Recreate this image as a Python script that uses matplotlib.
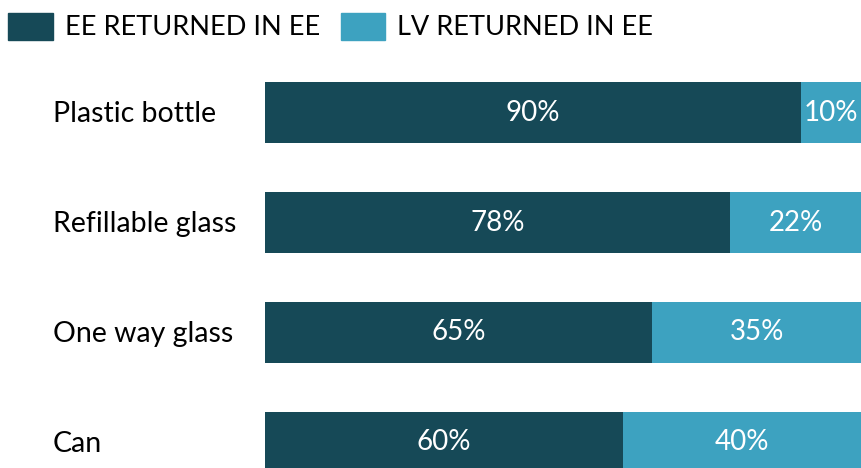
import matplotlib.pyplot as plt
from matplotlib.patches import Patch

categories = ['Plastic bottle', 'Refillable glass', 'One way glass', 'Can']
ee_share = [90, 78, 65, 60]
lv_share = [10, 22, 35, 40]
series_names = ['EE RETURNED IN EE', 'LV RETURNED IN EE']

dark = '#164957'
light = '#3DA2C0'

plt.rcParams['font.family'] = ['Lato', 'DejaVu Sans']

fig = plt.figure(figsize=(8.61, 4.68), dpi=100)
ax = fig.add_axes([265 / 861, 0, 1 - 265 / 861, 1])

pos = list(range(len(categories)))
h = 0.555
ax.barh(pos, ee_share, height=h, color=dark, linewidth=0)
ax.barh(pos, lv_share, left=ee_share, height=h, color=light, linewidth=0)

for i in pos:
    ax.text(ee_share[i] / 2, i, f'{ee_share[i]}%', color='white', fontsize=20,
            ha='center', va='center')
    ax.text(ee_share[i] + lv_share[i] / 2, i, f'{lv_share[i]}%', color='white',
            fontsize=20, ha='center', va='center')
    fig.text(53 / 861, 1 - (114 + 110 * i) / 468, categories[i], fontsize=20.5,
             ha='left', va='center', color='black')

ax.set_xlim(0, 100)
ax.set_ylim(3.232, -1.023)
ax.axis('off')

handles = [Patch(color=dark), Patch(color=light)]
fig.legend(handles, series_names, loc='upper left', bbox_to_anchor=(0.0, 0.99),
           ncol=2, frameon=False, fontsize=19.5, handlelength=1.65, handleheight=1.15,
           handletextpad=0.45, columnspacing=0.75, borderaxespad=0.0, borderpad=0.3)

fig.savefig('out.png', dpi=100)
